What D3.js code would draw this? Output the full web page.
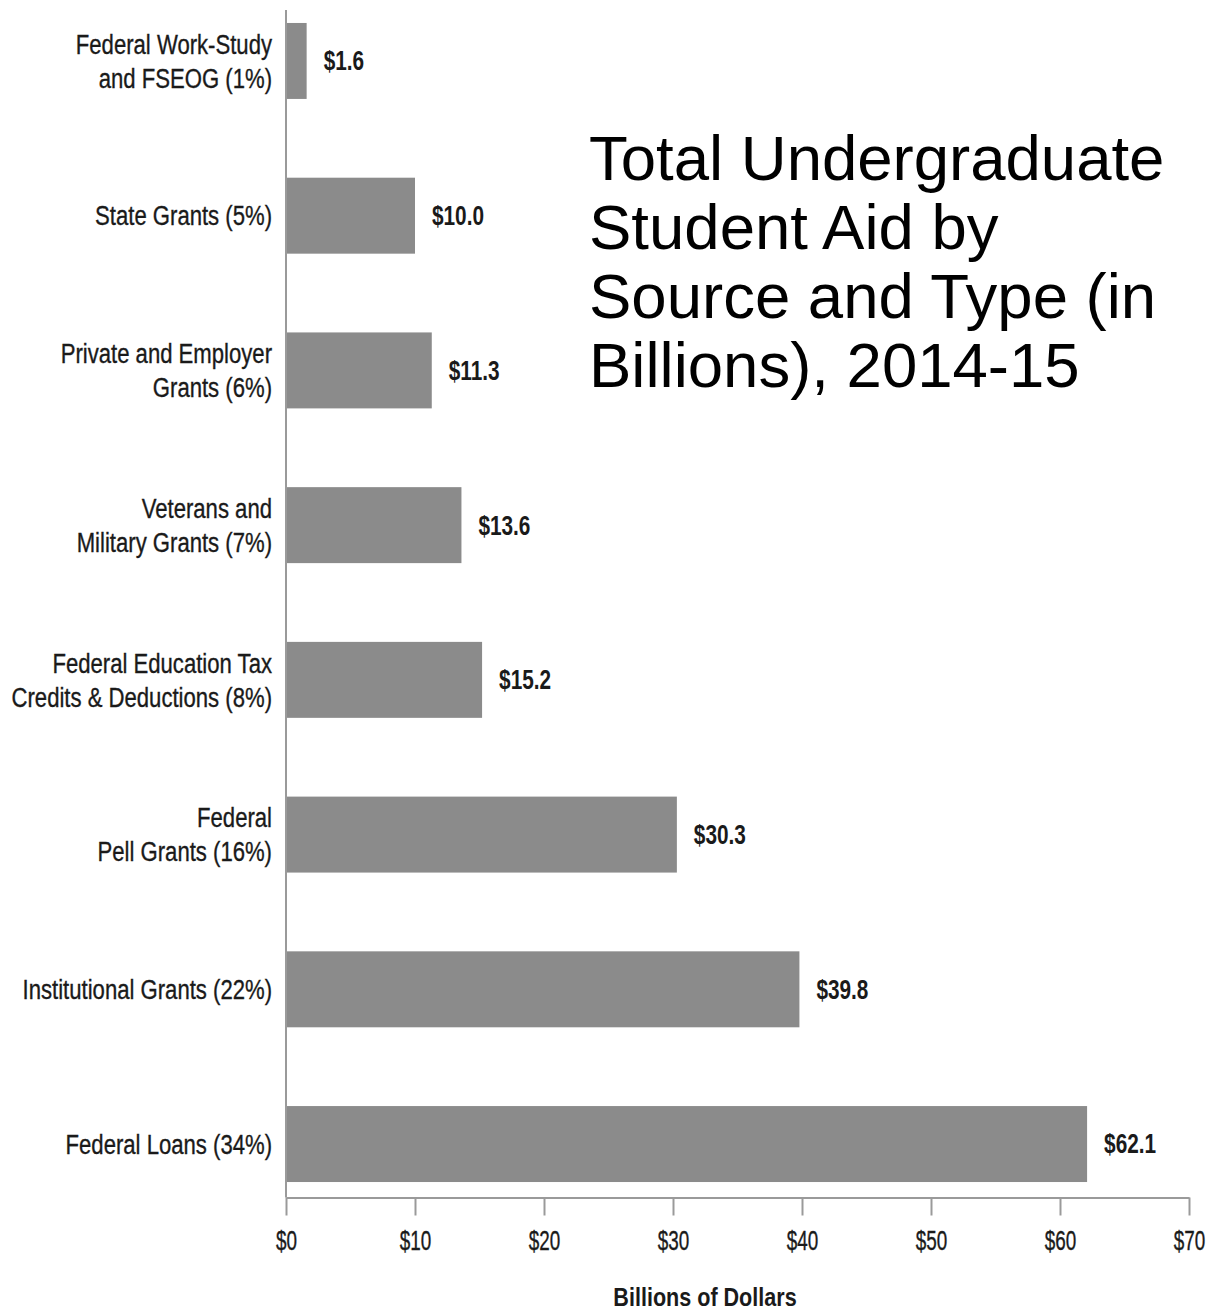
<!DOCTYPE html>
<html>
<head>
<meta charset="utf-8">
<script src="https://cdn.jsdelivr.net/npm/d3@7"></script>
<style>
  body { margin: 0; background: #fff; }
  .lbl { font-family: "Liberation Sans", Arial, sans-serif; fill: #1a1a1a; stroke: #1a1a1a; stroke-width: 0.35px; }
  .title { font-family: "Liberation Sans", Arial, sans-serif; fill: #000; }
</style>
</head>
<body>
<div id="chart"></div>
<script>
var categories = [
  ["Federal Work-Study", "and FSEOG (1%)"],
  ["State Grants (5%)"],
  ["Private and Employer", "Grants (6%)"],
  ["Veterans and", "Military Grants (7%)"],
  ["Federal Education Tax", "Credits & Deductions (8%)"],
  ["Federal", "Pell Grants (16%)"],
  ["Institutional Grants (22%)"],
  ["Federal Loans (34%)"]
];
var values = [1.6, 10.0, 11.3, 13.6, 15.2, 30.3, 39.8, 62.1];
var tickValues = [0, 10, 20, 30, 40, 50, 60, 70];
var titleLines = ["Total Undergraduate", "Student Aid by", "Source and Type (in", "Billions), 2014-15"];
var axisTitle = "Billions of Dollars";

var width = 1209, height = 1312;
var mLeft = 286, mRight = 1189, mTop = 7.5, mBottom = 1197.5;
var squeeze = 0.79; // condensed look of the original labels

var svg = d3.select("#chart").append("svg")
    .attr("width", width)
    .attr("height", height);

var data = values.map(function (v, i) { return {i: i, label: categories[i], value: v}; });

var x = d3.scaleLinear().domain([0, 70]).range([mLeft, mRight]);
var y = d3.scaleBand()
    .domain(d3.range(values.length))
    .range([mTop, mBottom])
    .paddingInner(0.509)
    .paddingOuter(0.1);

// bars
svg.selectAll(".bar")
    .data(data)
    .enter().append("rect")
    .attr("class", "bar")
    .attr("x", x(0))
    .attr("y", function (d) { return y(d.i); })
    .attr("width", function (d) { return x(d.value) - x(0); })
    .attr("height", y.bandwidth())
    .attr("fill", "#8b8b8b");

// value labels
svg.selectAll(".val")
    .data(data)
    .enter().append("text")
    .attr("class", "lbl val")
    .attr("transform", function (d) {
      return "translate(" + (x(d.value) + 17) + "," + (y(d.i) + y.bandwidth() / 2) + ") scale(0.77,1)";
    })
    .attr("dy", "0.35em")
    .style("font-size", "27px")
    .style("font-weight", "bold")
    .style("stroke-width", "0")
    .text(function (d) { return "$" + d.value.toFixed(1); });

// category labels
var cat = svg.selectAll(".cat")
    .data(data)
    .enter().append("text")
    .attr("class", "lbl cat")
    .attr("text-anchor", "end")
    .style("font-size", "28px")
    .attr("transform", function (d) {
      return "translate(272," + (y(d.i) + y.bandwidth() / 2) + ") scale(" + squeeze + ",1)";
    });

cat.selectAll("tspan")
    .data(function (d) {
      var n = d.label.length;
      return d.label.map(function (t, k) { return {t: t, off: (k - (n - 1) / 2) * 34}; });
    })
    .enter().append("tspan")
    .attr("x", 0)
    .attr("y", function (d) { return d.off; })
    .attr("dy", "0.35em")
    .text(function (d) { return d.t; });

// x axis
var xAxis = d3.axisBottom(x)
    .tickValues(tickValues)
    .tickSize(18)
    .tickSizeOuter(0)
    .tickPadding(15)
    .tickFormat(function (d) { return "$" + d; });

var gx = svg.append("g")
    .attr("transform", "translate(0," + mBottom + ")")
    .call(xAxis);

gx.select(".domain").attr("stroke", "#9a9a9a").attr("stroke-width", 2);
gx.selectAll(".tick line").attr("stroke", "#9a9a9a").attr("stroke-width", 2);
gx.selectAll(".tick text")
    .attr("class", "lbl")
    .attr("transform", "scale(0.7,1)")
    .style("font-size", "27px")
    .attr("fill", "#1a1a1a");

// y axis line
svg.append("line")
    .attr("x1", mLeft).attr("x2", mLeft)
    .attr("y1", 10).attr("y2", mBottom)
    .attr("stroke", "#9a9a9a")
    .attr("stroke-width", 2);

svg.append("text")
    .attr("class", "lbl")
    .attr("transform", "translate(705,1306) scale(0.83,1)")
    .attr("text-anchor", "middle")
    .style("font-size", "26px")
    .style("font-weight", "bold")
    .style("stroke-width", "0")
    .text(axisTitle);

// title
svg.append("text")
    .attr("class", "title")
    .style("font-size", "63.5px")
    .selectAll("tspan")
    .data(titleLines)
    .enter().append("tspan")
    .attr("x", 589)
    .attr("y", function (d, i) { return 180 + i * 69; })
    .text(function (d) { return d; });
</script>
</body>
</html>
